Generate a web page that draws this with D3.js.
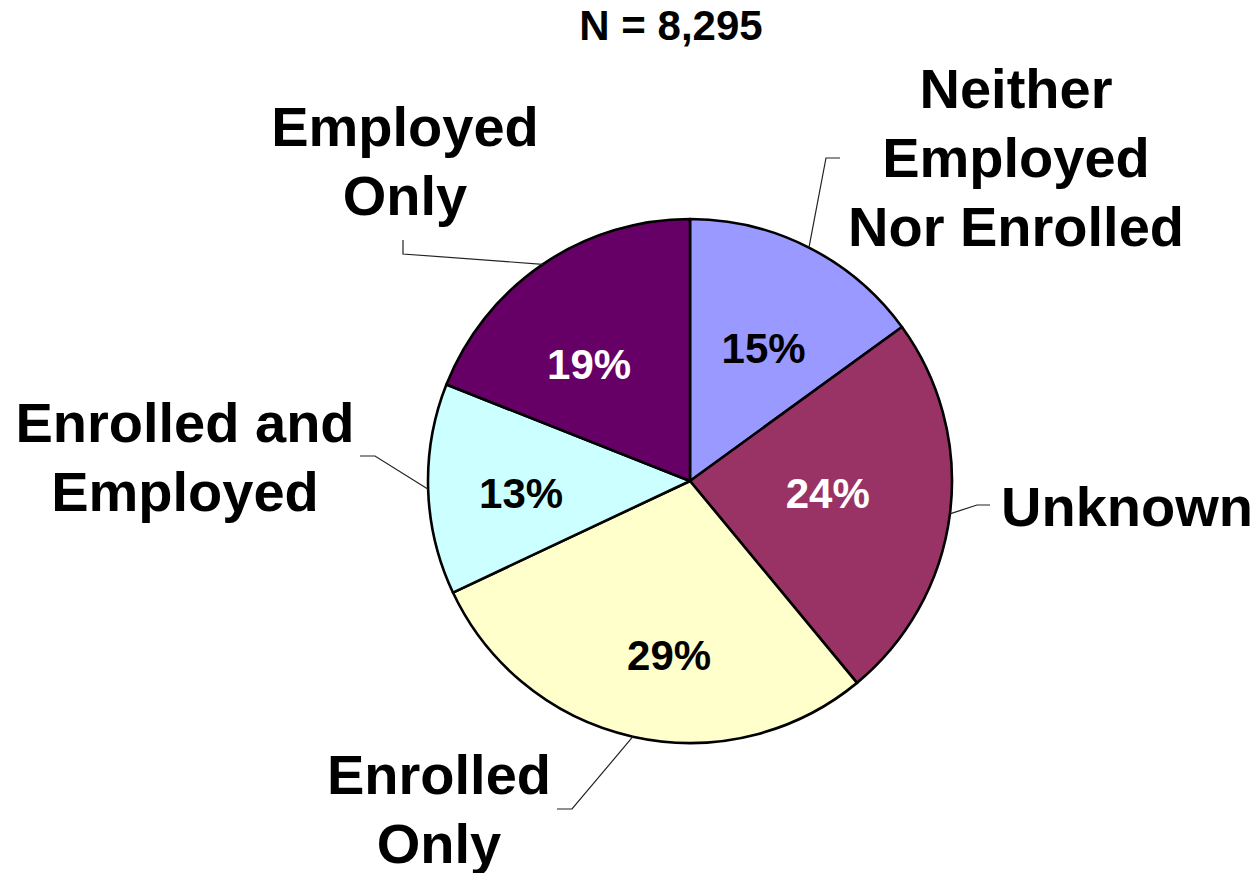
<!DOCTYPE html>
<html>
<head>
<meta charset="utf-8">
<script src="https://cdn.jsdelivr.net/npm/d3@7"></script>
<style>
  html, body { margin: 0; padding: 0; background: #fff; }
  svg text { font-family: "Liberation Sans", Arial, sans-serif; font-weight: bold; }
</style>
</head>
<body>
<div id="chart"></div>
<script>
// data
const categories = ["Neither Employed Nor Enrolled", "Unknown", "Enrolled Only", "Enrolled and Employed", "Employed Only"];
const shares = [15, 24, 29, 13, 19];
const colors = ["#9999FF", "#993366", "#FFFFCC", "#CCFFFF", "#660066"];
const valueColors = ["#000", "#fff", "#000", "#000", "#fff"];
const title = "N = 8,295";

// category label lines and where they sit (layout only)
const labelLines = [
    ["Neither", "Employed", "Nor Enrolled"],
    ["Unknown"],
    ["Enrolled", "Only"],
    ["Enrolled and", "Employed"],
    ["Employed", "Only"]
];
const labelLayout = [
    {x: 1016, y: 108, anchor: "middle", elbow: [826, 158], end: [840, 158]},
    {x: 1001, y: 526, anchor: "start",  elbow: [977, 505], end: [990, 505]},
    {x: 439,  y: 794, anchor: "middle", elbow: [572, 809], end: [557, 809]},
    {x: 185,  y: 442, anchor: "middle", elbow: [375, 456], end: [360, 456]},
    {x: 405,  y: 146, anchor: "middle", elbow: [403, 254], end: [403, 240]}
];
// small nudges for the percentage labels (Excel places them by box)
const valueNudge = [[1, 10], [-21, -8], [14, 18], [-9, 7], [-11, 15]];

const width = 1254, height = 873;
const cx = 690, cy = 481, radius = 262;

const svg = d3.select("#chart")
    .append("svg")
    .attr("width", width)
    .attr("height", height);

svg.append("text")
    .attr("x", 671)
    .attr("y", 40)
    .attr("text-anchor", "middle")
    .style("font-size", "42px")
    .text(title);

const data = categories.map((c, i) => ({name: c, value: shares[i], i: i}));

const pie = d3.pie()
    .sort(null)
    .value(d => d.value);

const arcs = pie(data);

const arc = d3.arc().innerRadius(0).outerRadius(radius);
const labelArc = d3.arc().innerRadius(160).outerRadius(160);

const g = svg.append("g")
    .attr("transform", "translate(" + cx + "," + cy + ")");

g.selectAll("path")
    .data(arcs)
    .enter()
    .append("path")
    .attr("d", arc)
    .attr("fill", d => colors[d.data.i])
    .attr("stroke", "#000")
    .attr("stroke-width", 2.6)
    .attr("stroke-linejoin", "round");

g.selectAll("text.value")
    .data(arcs)
    .enter()
    .append("text")
    .attr("class", "value")
    .attr("x", d => labelArc.centroid(d)[0] + valueNudge[d.data.i][0])
    .attr("y", d => labelArc.centroid(d)[1] + valueNudge[d.data.i][1] + 15)
    .attr("text-anchor", "middle")
    .attr("fill", d => valueColors[d.data.i])
    .style("font-size", "42px")
    .text(d => d.data.value + "%");

// leader lines: from the slice edge at its mid-angle to the label
arcs.forEach(d => {
    const mid = (d.startAngle + d.endAngle) / 2;
    const sx = cx + radius * Math.sin(mid);
    const sy = cy - radius * Math.cos(mid);
    const lay = labelLayout[d.data.i];
    svg.append("polyline")
        .attr("points", [[sx, sy], lay.elbow, lay.end].map(p => p.join(",")).join(" "))
        .attr("fill", "none")
        .attr("stroke", "#222")
        .attr("stroke-width", 1.2);
});

// category labels
arcs.forEach(d => {
    const lay = labelLayout[d.data.i];
    const t = svg.append("text")
        .attr("x", lay.x)
        .attr("y", lay.y)
        .attr("text-anchor", lay.anchor)
        .style("font-size", "56px");
    labelLines[d.data.i].forEach((line, k) => {
        t.append("tspan")
            .attr("x", lay.x)
            .attr("y", lay.y + k * 69)
            .text(line);
    });
});
</script>
</body>
</html>
